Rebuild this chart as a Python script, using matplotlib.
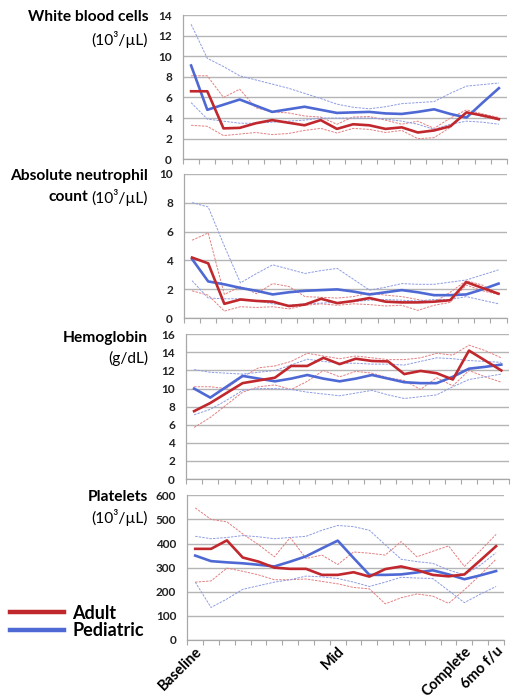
import numpy as np
import matplotlib
matplotlib.use("Agg")
import matplotlib.pyplot as plt
from matplotlib.lines import Line2D

plt.rcParams['font.family'] = ['Lato', 'DejaVu Sans']

# 20 visits, only a few are labelled
n_visits = 20
visit_labels = {0: "Baseline", 9: "Mid", 17: "Complete", 19: "6mo f/u"}

# White blood cells (10^3/uL)
wbc_adult = [6.6, 6.6, 3.0, 3.05, 3.5, 3.8, 3.55, 3.3, 3.8, 2.95, 3.4, 3.3, 2.95, 3.1, 2.6, 2.8, 3.2, 4.55, 4.25, 3.9]
wbc_adult_hi = [8.1, 8.1, 6.0, 6.8, 5.0, 4.6, 4.5, 4.2, 4.1, 3.4, 4.1, 4.15, 3.8, 3.4, 3.7, 3.0, 4.0, 4.8, 4.4, 4.05]
wbc_adult_lo = [3.3, 3.2, 2.3, 2.45, 2.6, 2.4, 2.5, 2.8, 3.0, 2.55, 3.0, 2.9, 2.6, 2.8, 2.0, 2.1, 3.1, 4.6, 4.15, 3.8]
wbc_ped = [9.1, 4.8, 5.3, 5.8, 5.2, 4.6, 4.85, 5.1, 4.8, 4.5, 4.55, 4.6, 4.45, 4.4, 4.6, 4.85, 4.4, 4.05, 5.5, 6.9]
wbc_ped_hi = [13.1, 9.8, 9.0, 8.1, 7.7, 7.3, 6.9, 6.4, 5.9, 5.35, 5.05, 4.9, 5.1, 5.4, 5.5, 5.6, 6.4, 7.1, 7.25, 7.4]
wbc_ped_lo = [5.5, 3.9, 3.7, 3.5, 3.5, 3.6, 3.7, 3.8, 4.0, 4.0, 4.0, 4.0, 3.9, 3.7, 3.4, 2.9, 3.4, 3.7, 3.6, 3.4]

# Absolute neutrophil count (10^3/uL)
anc_adult = [4.2, 3.8, 1.0, 1.3, 1.2, 1.15, 0.85, 0.95, 1.35, 1.05, 1.2, 1.4, 1.15, 1.1, 1.1, 1.15, 1.25, 2.5, 2.1, 1.7]
anc_adult_hi = [5.4, 5.9, 1.65, 2.2, 1.7, 2.4, 2.2, 1.5, 1.45, 1.4, 1.5, 1.75, 1.6, 1.5, 1.3, 1.1, 1.8, 2.6, 2.3, 1.65]
anc_adult_lo = [1.9, 1.6, 0.5, 0.8, 0.75, 0.8, 0.65, 0.9, 1.0, 0.9, 1.0, 0.95, 0.85, 0.9, 0.55, 0.9, 1.1, 2.3, 1.9, 1.65]
anc_ped = [4.1, 2.55, 2.35, 2.1, 1.9, 1.65, 1.8, 1.9, 1.95, 2.0, 1.85, 1.65, 1.8, 1.95, 1.8, 1.6, 1.6, 1.65, 2.0, 2.4]
anc_ped_hi = [8.0, 7.7, 5.0, 2.45, 3.1, 3.7, 3.4, 3.1, 3.3, 3.45, 2.7, 1.95, 2.15, 2.4, 2.35, 2.35, 2.5, 2.65, 3.0, 3.35]
anc_ped_lo = [2.6, 1.4, 1.35, 1.35, 1.2, 1.0, 0.9, 1.0, 1.05, 1.1, 1.15, 1.25, 1.3, 1.25, 1.2, 1.3, 1.3, 1.5, 1.25, 1.0]

# Hemoglobin (g/dL)
hgb_adult = [7.5, 8.4, 9.5, 10.6, 10.9, 11.2, 12.5, 12.5, 13.4, 12.7, 13.3, 13.05, 13.0, 11.6, 11.95, 11.7, 11.0, 14.2, 13.1, 12.0]
hgb_adult_hi = [10.2, 10.2, 10.0, 11.3, 12.3, 12.5, 13.0, 13.9, 13.6, 13.3, 13.6, 13.4, 13.2, 13.2, 13.4, 13.9, 13.7, 14.8, 14.2, 13.4]
hgb_adult_lo = [5.7, 6.8, 8.2, 9.6, 10.2, 10.4, 9.9, 10.8, 12.0, 11.3, 11.9, 11.7, 11.2, 10.9, 9.9, 11.2, 10.3, 12.0, 11.3, 10.7]
hgb_ped = [10.0, 9.0, 10.2, 11.4, 11.1, 10.8, 11.1, 11.5, 11.1, 10.8, 11.1, 11.5, 11.1, 10.7, 10.6, 10.6, 11.3, 12.2, 12.4, 12.65]
hgb_ped_hi = [12.1, 11.8, 11.7, 11.6, 11.8, 12.0, 12.6, 13.25, 13.0, 12.8, 12.8, 12.7, 12.7, 12.6, 13.0, 13.4, 13.3, 13.1, 13.0, 12.9]
hgb_ped_lo = [7.1, 7.7, 8.7, 9.8, 10.0, 10.0, 9.9, 9.6, 9.4, 9.2, 9.5, 9.8, 9.3, 8.9, 9.1, 9.3, 10.2, 11.0, 11.3, 11.6]

# Platelets (10^3/uL)
plt_adult = [378, 378, 413, 342, 325, 300, 295, 295, 270, 270, 281, 263, 294, 305, 290, 270, 264, 272, 330, 389]
plt_adult_hi = [548, 500, 490, 440, 395, 345, 425, 338, 352, 313, 365, 360, 352, 408, 345, 368, 390, 305, 370, 438]
plt_adult_lo = [240, 245, 298, 285, 270, 250, 250, 253, 243, 233, 218, 212, 150, 175, 191, 182, 152, 208, 270, 335]
plt_ped = [350, 327, 322, 318, 312, 305, 325, 347, 380, 412, 340, 270, 270, 272, 280, 289, 272, 252, 268, 286]
plt_ped_hi = [430, 420, 425, 433, 428, 420, 425, 430, 455, 475, 470, 455, 395, 335, 325, 318, 290, 270, 310, 362]
plt_ped_lo = [240, 135, 170, 210, 225, 240, 250, 265, 262, 255, 240, 222, 240, 260, 257, 255, 205, 155, 190, 222]

RED = '#C0282E'
BLUE = '#4F69D4'
RED_LT = '#E38082'
BLUE_LT = '#8E9DE2'
GRID = '#B5B5B5'

W, H = 521, 698
fig = plt.figure(figsize=(W / 100, H / 100), dpi=100)


def px_axes(left, top, right, bottom):
    return fig.add_axes([left / W, 1 - bottom / H, (right - left) / W, (bottom - top) / H])


panels = [
    dict(box=(183, 15, 507, 159.3), ymax=14, step=2,
         data=(wbc_adult, wbc_adult_hi, wbc_adult_lo, wbc_ped, wbc_ped_hi, wbc_ped_lo)),
    dict(box=(184, 173.7, 506.6, 318.3), ymax=10, step=2,
         data=(anc_adult, anc_adult_hi, anc_adult_lo, anc_ped, anc_ped_hi, anc_ped_lo)),
    dict(box=(186, 334.3, 509.4, 479), ymax=16, step=2,
         data=(hgb_adult, hgb_adult_hi, hgb_adult_lo, hgb_ped, hgb_ped_hi, hgb_ped_lo)),
    dict(box=(187.3, 495.3, 504, 640), ymax=600, step=100,
         data=(plt_adult, plt_adult_hi, plt_adult_lo, plt_ped, plt_ped_hi, plt_ped_lo)),
]

x = np.arange(n_visits)
axes = []
for k, p in enumerate(panels):
    ax = px_axes(*p['box'])
    a, a_hi, a_lo, c, c_hi, c_lo = p['data']
    for s in (a_hi, a_lo):
        ax.plot(x, s, color=RED_LT, lw=0.7, ls=(0, (2.5, 1.2)), zorder=3)
    for s in (c_hi, c_lo):
        ax.plot(x, s, color=BLUE_LT, lw=0.7, ls=(0, (2.5, 1.2)), zorder=3)
    ax.plot(x, a, color=RED, lw=1.9, zorder=5)
    ax.plot(x, c, color=BLUE, lw=1.9, zorder=4)

    ax.set_xlim(-0.5, n_visits - 0.5)
    ax.set_ylim(0, p['ymax'])
    ax.set_yticks(np.arange(0, p['ymax'] + 0.01, p['step']))
    ax.yaxis.grid(True, color=GRID, lw=1.0)
    ax.set_axisbelow(True)
    for sp in ('top', 'right'):
        ax.spines[sp].set_visible(False)
    for sp in ('left', 'bottom'):
        ax.spines[sp].set_color('#A8A8A8')
        ax.spines[sp].set_linewidth(0.9)
    ax.tick_params(axis='y', length=0, pad=8, labelsize=8.5, labelcolor='#222222')
    for lab in ax.get_yticklabels():
        lab.set_fontweight('bold')
    ax.set_xticks(np.arange(-0.5, n_visits, 1), minor=True)
    ax.tick_params(axis='x', which='minor', length=3.5, direction='out', color='#A8A8A8', width=0.8)
    if k == len(panels) - 1:
        ax.set_xticks(list(visit_labels.keys()))
        ax.set_xticklabels(list(visit_labels.values()), rotation=45, ha='right',
                           va='top', rotation_mode='anchor', fontsize=10.5, fontweight='bold')
        ax.tick_params(axis='x', which='major', length=0, pad=3)
    else:
        ax.set_xticks([])
    axes.append(ax)

# Row titles, right aligned next to the y ticks
TX = 148 / W
tsize = 11.2


def ty(py):
    return 1 - py / H


fig.text(TX, ty(17), "White blood cells", ha='right', va='center', fontsize=tsize, fontweight='bold')
fig.text(TX, ty(40), "(10\u00b3/\u00b5L)", ha='right', va='center', fontsize=tsize)

fig.text(TX, ty(176), "Absolute neutrophil", ha='right', va='center', fontsize=tsize, fontweight='bold')
unit = fig.text(TX, ty(197), "(10\u00b3/\u00b5L)", ha='right', va='center', fontsize=tsize)

fig.text(TX, ty(338), "Hemoglobin", ha='right', va='center', fontsize=tsize, fontweight='bold')
fig.text(TX, ty(358), "(g/dL)", ha='right', va='center', fontsize=tsize)

fig.text(TX, ty(497), "Platelets", ha='right', va='center', fontsize=tsize, fontweight='bold')
fig.text(TX, ty(518), "(10\u00b3/\u00b5L)", ha='right', va='center', fontsize=tsize)

fig.canvas.draw()
bb = unit.get_window_extent(fig.canvas.get_renderer())
fig.text((bb.x0 - 3) / W, ty(197), "count", ha='right', va='center', fontsize=tsize, fontweight='bold')

handles = [Line2D([], [], color=RED, lw=3.2), Line2D([], [], color=BLUE, lw=3.2)]
fig.legend(handles, ["Adult", "Pediatric"], loc='center left', bbox_to_anchor=(10 / W, ty(622)),
           frameon=False, borderpad=0, borderaxespad=0, handlelength=3.0, handletextpad=0.45,
           labelspacing=0.05, prop=dict(size=13, weight='bold'))

fig.savefig("out.png", dpi=100)
